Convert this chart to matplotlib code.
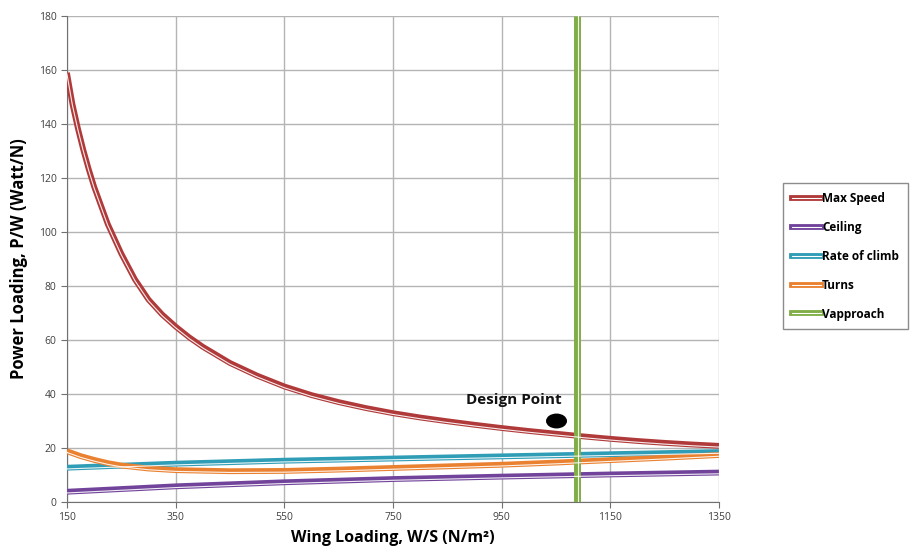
import matplotlib.pyplot as plt
import matplotlib.transforms as mtransforms
from matplotlib.lines import Line2D
from matplotlib.patches import Ellipse

plt.rcParams['font.family'] = ['Open Sans', 'DejaVu Sans']

# data
ws_speed = [150, 160, 170, 180, 190, 200, 225, 250, 275, 300, 325, 350, 375, 400, 450,
            500, 550, 600, 650, 700, 750, 800, 850, 900, 950, 1000, 1050, 1100,
            1150, 1200, 1250, 1300, 1350]
max_speed = [159, 147.5, 138.5, 130.5, 123.3, 116.8, 103, 92, 82.5, 75, 69.5, 65, 61, 57.5, 51.5,
             46.8, 42.8, 39.6, 37, 34.8, 32.9, 31.3, 29.9, 28.6, 27.4, 26.3, 25.3, 24.3,
             23.4, 22.6, 21.9, 21.3, 20.8]

ws_lin = [150, 350, 550, 750, 950, 1150, 1350]
ceiling = [3.8, 5.8, 7.3, 8.5, 9.4, 10.2, 10.9]
rate_of_climb = [12.7, 14.2, 15.3, 16.1, 16.9, 17.7, 18.5]

ws_turns = [150, 175, 200, 225, 250, 300, 350, 450, 550, 650, 750, 850, 950, 1050, 1150, 1250, 1350]
turns = [18.8, 17.0, 15.6, 14.4, 13.5, 12.4, 11.8, 11.4, 11.5, 12.0, 12.6, 13.2, 13.8, 14.6, 15.5, 16.4, 17.4]

v_approach = 1088
design_ws, design_pw = 1051, 30

colors = {'Max Speed': '#b03a3a', 'Ceiling': '#71439a', 'Rate of climb': '#2f9db6',
          'Turns': '#ea8130', 'Vapproach': '#80ad45'}

fig = plt.figure(figsize=(9.16, 5.54), dpi=100)
ax = fig.add_axes([0.0731, 0.0939, 0.7118, 0.877])

white_shift = mtransforms.offset_copy(ax.transData, fig=fig, x=0, y=-0.9, units='points')
white_shift_x = mtransforms.offset_copy(ax.transData, fig=fig, x=1.0, y=0, units='points')


def double_line(x, y, c, tr, lw=4.2):
    ax.plot(x, y, color=c, lw=lw, solid_capstyle='butt', solid_joinstyle='round', zorder=3)
    ax.plot(x, y, color='white', lw=0.8, alpha=0.9, transform=tr, zorder=4)


double_line(ws_speed, max_speed, colors['Max Speed'], white_shift)
double_line(ws_lin, ceiling, colors['Ceiling'], white_shift)
double_line(ws_lin, rate_of_climb, colors['Rate of climb'], white_shift)
double_line(ws_turns, turns, colors['Turns'], white_shift)
double_line([v_approach, v_approach], [0, 180], colors['Vapproach'], white_shift_x, lw=5)

ax.add_patch(Ellipse((design_ws, design_pw), 36, 5.0, color='black', zorder=5))
ax.text(972, 37.8, 'Design Point', fontsize=11, fontweight='bold', ha='center', va='center',
        color='#111111')

ax.set_xlim(150, 1350)
ax.set_ylim(0, 180)
ax.set_xticks(range(150, 1351, 200))
ax.set_yticks(range(0, 181, 20))
ax.grid(True, color='#b4b4b4', lw=1)
ax.set_axisbelow(True)
for s in ['top', 'right']:
    ax.spines[s].set_visible(False)
for s in ['left', 'bottom']:
    ax.spines[s].set_color('#707070')
ax.tick_params(labelsize=7.5, length=4, color='#707070', labelcolor='#404040')

ax.set_xlabel('Wing Loading, W/S (N/m²)', fontsize=11.5, fontweight='bold', labelpad=5)
ax.set_ylabel('Power Loading, P/W (Watt/N)', fontsize=12, fontweight='bold', labelpad=8)

handles = []
for name, c in colors.items():
    handles.append((Line2D([], [], color=c, lw=4.2), Line2D([], [], color='white', lw=0.8)))
leg = fig.legend(handles, list(colors.keys()), loc='upper left',
                 bbox_to_anchor=(783 / 916, 1 - 183 / 554), fancybox=False,
                 edgecolor='#707070', handlelength=2.5, handletextpad=0.05,
                 labelspacing=1.35, borderpad=0.75, borderaxespad=0,
                 prop={'size': 8.5, 'weight': 'bold'})
leg.get_frame().set_linewidth(1)

fig.savefig('out.png', dpi=100)
